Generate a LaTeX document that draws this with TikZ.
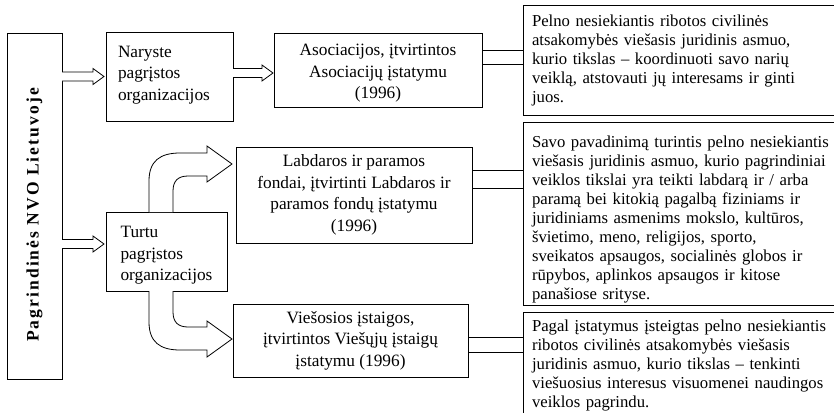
\documentclass[tikz,border=0pt]{standalone}
\usepackage{fontspec}
\setmainfont{Liberation Serif}
\newfontfamily\spacedbold[LetterSpace=12]{Liberation Serif}
\usetikzlibrary{calc}

% hollow block arrow from #1 (start) to #2 (tip), horizontal
\newcommand\blockarrow[2]{%
  \draw[hollowarrow] ($(#1)+(0,4.5pt)$) -- ($(#2)+(-11pt,4.5pt)$)
    -- ($(#2)+(-11pt,8pt)$) -- (#2) -- ($(#2)+(-11pt,-8pt)$)
    -- ($(#2)+(-11pt,-4.5pt)$) -- ($(#1)+(0,-4.5pt)$);}

\begin{document}
\begin{tikzpicture}[x=1pt,y=-1pt,
  every node/.style={inner sep=0pt,outer sep=0pt},
  orgbox/.style={draw,line width=0.8pt,fill=white,
    font=\fontsize{17.3}{21.5}\selectfont},
  descbox/.style={draw,line width=0.9pt,fill=white,anchor=north west,
    align=left,text width=330pt,inner xsep=9pt,inner ysep=0pt,
    font=\fontsize{16.7}{19}\selectfont},
  hollowarrow/.style={draw,line width=0.8pt,fill=white,line join=miter},
  link/.style={draw,line width=0.8pt}]
\clip (0,0) rectangle (834,412);
\fill[white] (0,0) rectangle (834,412);

% left column
\node[orgbox,minimum width=55pt,minimum height=346pt] (lb) at (34.5,206) {};
\node[rotate=90,font=\spacedbold\bfseries\fontsize{17.5}{20}\selectfont]
  (lbt) at (34.5,215) {Pagrindinės NVO Lietuvoje};

% organisation types
\node[orgbox,minimum width=127pt,minimum height=89pt,text width=103pt,
  inner xsep=12pt,align=left] (nar) at (169.5,76.5)
  {Naryste\\pagrįstos\\organizacijos\rule[-7pt]{0pt}{7pt}};
\node[orgbox,minimum width=121pt,minimum height=79pt,align=left]
  (tur) at (166.5,251.5) {\rule{0pt}{19.5pt}Turtu\\pagrįstos\\organizacijos};

% legal forms
\node[orgbox,minimum width=208pt,minimum height=74pt,align=center]
  (aso) at (378,70) {\rule{0pt}{18pt}Asociacijos, įtvirtintos\\Asociacijų įstatymu\\(1996)};
\node[orgbox,minimum width=236pt,minimum height=96pt,align=center]
  (lab) at (354,195) {Labdaros ir paramos\\fondai, įtvirtinti Labdaros ir\\paramos fondų įstatymu\\(1996)};
\node[orgbox,minimum width=235pt,minimum height=73pt,align=center]
  (vie) at (350.5,340.5) {Viešosios įstaigos,\\įtvirtintos Viešųjų įstaigų\\įstatymu (1996)};

% definitions
\node[descbox] (d1) at (523,5)
  {\rule{0pt}{22pt}Pelno nesiekiantis ribotos civilinės\\
   atsakomybės viešasis juridinis asmuo,\\
   kurio tikslas – koordinuoti savo narių\\
   veiklą, atstovauti jų interesams ir ginti\\
   juos.\rule[-12pt]{0pt}{12pt}};
\node[descbox] (d2) at (523,122)
  {\rule{0pt}{25pt}Savo pavadinimą turintis pelno nesiekiantis\\
   viešasis juridinis asmuo, kurio pagrindiniai\\
   veiklos tikslai yra teikti labdarą ir / arba\\
   paramą bei kitokią pagalbą fiziniams ir\\
   juridiniams asmenims mokslo, kultūros,\\
   švietimo, meno, religijos, sporto,\\
   sveikatos apsaugos, socialinės globos ir\\
   rūpybos, aplinkos apsaugos ir kitose\\
   panašiose srityse.\rule[-6pt]{0pt}{6pt}};
\node[descbox] (d3) at (523,312)
  {\rule{0pt}{19pt}Pagal įstatymus įsteigtas pelno nesiekiantis\\
   ribotos civilinės atsakomybės viešasis\\
   juridinis asmuo, kurio tikslas – tenkinti\\
   viešuosius interesus visuomenei naudingos\\
   veiklos pagrindu.\rule[-30pt]{0pt}{30pt}};

% straight block arrows
\coordinate (t1) at ($(nar.west)+(-2pt,0pt)$);
\coordinate (t2) at ($(tur.west)+(-2pt,7.5pt)$);
\coordinate (t3) at ($(aso.west)+(-1pt,-3pt)$);
\blockarrow{lb.east |- t1}{t1}
\blockarrow{lb.east |- t2}{t2}
\blockarrow{nar.east |- t3}{t3}

% bent block arrows out of the asset-based box
\draw[hollowarrow] (149,212) -- (149,181) .. controls (149,161) and (160,153) .. (180,153)
  -- (207,153) -- (207,146) -- (232,164) -- (207,182) -- (207,176) -- (188,176)
  .. controls (178,176) and (173,181) .. (173,191) -- (173,212);
\draw[hollowarrow] (149,291) -- (149,322) .. controls (149,342) and (160,350) .. (180,350)
  -- (207,350) -- (207,357) -- (232,339) -- (207,321) -- (207,327) -- (188,327)
  .. controls (178,327) and (173,322) .. (173,312) -- (173,291);

% double-line links to the definitions
\coordinate (a1) at ($(aso.east)+(0,20pt)$);
\coordinate (a2) at ($(aso.east)+(0,6pt)$);
\draw[link] (a1) -- (a1 -| d1.west);
\draw[link] (a2) -- (a2 -| d1.west);
\coordinate (b1) at ($(lab.north east)+(0,-23pt)$);
\coordinate (b2) at ($(lab.north east)+(0,-41pt)$);
\draw[link] (b1) -- (b1 -| d2.west);
\draw[link] (b2) -- (b2 -| d2.west);
\coordinate (c1) at ($(vie.north east)+(0,-33pt)$);
\coordinate (c2) at ($(vie.north east)+(0,-48pt)$);
\draw[link] (c1) -- (c1 -| d3.west);
\draw[link] (c2) -- (c2 -| d3.west);
\end{tikzpicture}
\end{document}
